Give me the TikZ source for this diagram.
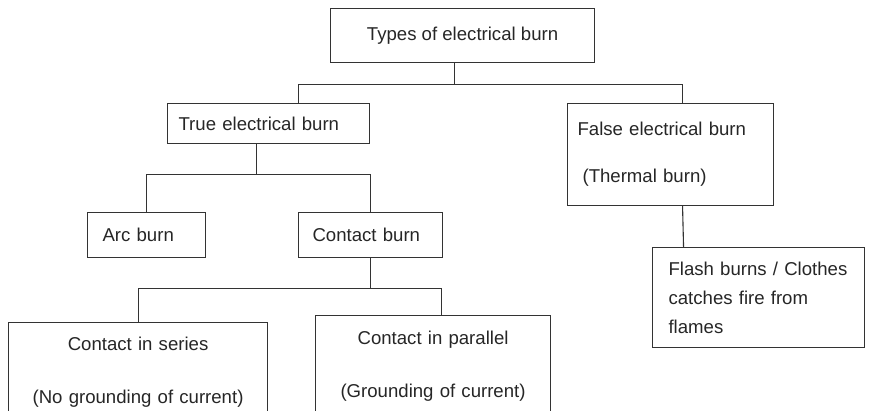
\documentclass[tikz,border=0pt]{standalone}
\usepackage{fontspec}
\setmainfont{Liberation Sans}
\begin{document}
\begin{tikzpicture}[x=1pt,y=-1pt,
    burnbox/.style={draw=black!80, line width=1.1pt, rectangle, inner ysep=0pt,
      text=black!85, font=\fontsize{18.6}{29}\selectfont, anchor=north west},
    treeline/.style={draw=black!80, line width=1.1pt}]
  \useasboundingbox (0,0) rectangle (874,411);
  \clip (0,0) rectangle (874,411);
  % boxes, placed by their top left corners
  \node[burnbox, minimum width=264pt, minimum height=54pt, align=center] (types) at (330,8) {Types of electrical burn};
  \node[burnbox, inner xsep=11pt, text width=180pt, minimum height=40pt, align=left] (trueburn) at (167,103) {True electrical burn};
  \node[burnbox, inner xsep=10pt, text width=186pt, minimum height=102pt, align=left] (falseburn) at (567,103) {False electrical burn\\[18pt]\hspace*{5pt}(Thermal burn)};
  \node[burnbox, inner xsep=15pt, text width=88pt, minimum height=45pt, align=left] (arc) at (87,212) {Arc burn};
  \node[burnbox, inner xsep=14pt, text width=116pt, minimum height=45pt, align=left] (contact) at (298,212) {Contact burn};
  \node[burnbox, inner xsep=16pt, text width=180pt, minimum height=100pt, align=left] (flash) at (652,247) {Flash burns / Clothes\\catches fire from\\flames};
  \node[burnbox, inner xsep=0pt, text width=259pt, minimum height=99pt, align=center] (series) at (8,322) {Contact in series\\[24pt](No grounding of current)};
  \node[burnbox, inner xsep=0pt, text width=235pt, minimum height=101pt, align=center] (parallel) at (315,315) {Contact in parallel\\[24pt](Grounding of current)};
  % tree lines
  \draw[treeline] ([xshift=-8pt]types.south) -- ++(0,21) coordinate (top bus);
  \draw[treeline] ([xshift=30pt]trueburn.north) |- (top bus) -| ([xshift=12pt]falseburn.north);
  \draw[treeline] ([xshift=-12pt]trueburn.south) -- ++(0,30) coordinate (true bus);
  \draw[treeline] (arc.north) |- (true bus) -| (contact.north);
  \draw[treeline] (contact.south) -- ++(0,30) coordinate (contact bus);
  \draw[treeline] (series.north) |- (contact bus) -| ([xshift=8pt]parallel.north);
  \draw[treeline] ([xshift=12pt]falseburn.south) -- ([xshift=-75pt]flash.north);
\end{tikzpicture}
\end{document}
